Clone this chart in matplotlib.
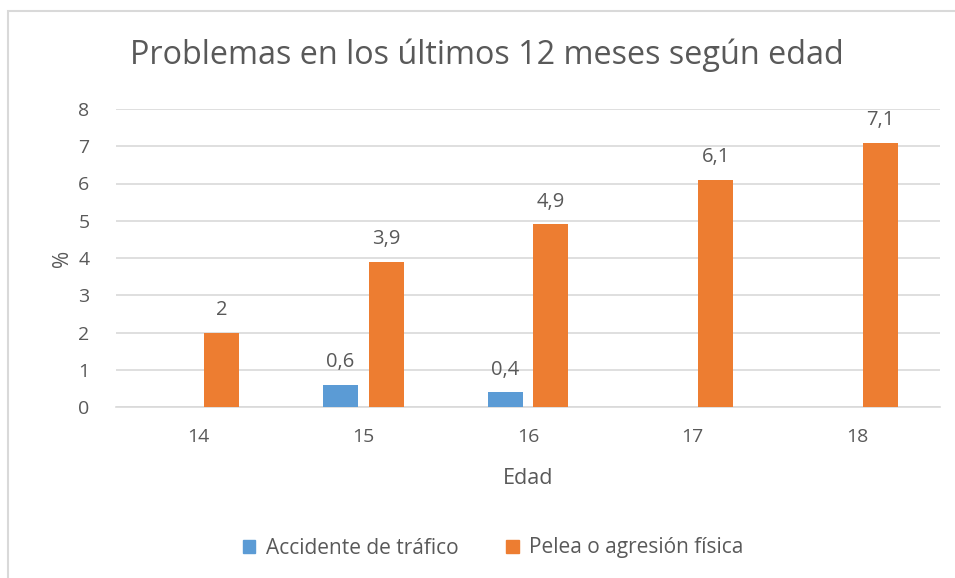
import matplotlib
matplotlib.use("Agg")
import matplotlib.pyplot as plt
import numpy as np
from matplotlib.patches import Rectangle

edades = ["14", "15", "16", "17", "18"]
accidente = [0, 0.6, 0.4, 0, 0]
pelea = [2, 3.9, 4.9, 6.1, 7.1]
series_names = ["Accidente de tráfico", "Pelea o agresión física"]
yticks = [0, 1, 2, 3, 4, 5, 6, 7, 8]

plt.rcParams['font.family'] = ['Open Sans', 'DejaVu Sans']
TXT = '#595959'
BLUE = '#5B9BD5'
ORANGE = '#ED7D31'

fig = plt.figure(figsize=(9.55, 5.78), dpi=100)
ax = fig.add_axes([116/955, 1-407/578, (940-116)/955, (407-109)/578])

x = np.arange(len(edades))
w = 0.212
off = 0.139
b1 = ax.bar(x - off, accidente, w, color=BLUE, zorder=3)
b2 = ax.bar(x + off, pelea, w, color=ORANGE, zorder=3)

def fmt(v):
    return ('%g' % v).replace('.', ',')

ax.bar_label(b1, labels=[fmt(v) if v else '' for v in accidente], padding=9,
             color=TXT, fontsize=14.5)
ax.bar_label(b2, labels=[fmt(v) for v in pelea], padding=9, color=TXT, fontsize=14.5)

ax.set_xlim(-0.5, len(edades) - 0.5)
ax.set_ylim(0, 8)
ax.set_yticks(yticks)
ax.set_xticks(x)
ax.set_xticklabels(edades)
ax.yaxis.grid(True, color='#D9D9D9', linewidth=1.2, zorder=0)
ax.set_axisbelow(True)
for s in ['top', 'right', 'left']:
    ax.spines[s].set_visible(False)
ax.spines['bottom'].set_color('#D9D9D9')
ax.spines['bottom'].set_linewidth(1.2)
ax.tick_params(axis='both', length=0, colors=TXT, labelsize=14)
ax.tick_params(axis='y', pad=19)
ax.tick_params(axis='x', pad=15)
ax.set_xlabel('Edad', color=TXT, fontsize=15.5, labelpad=16)
ax.set_ylabel('%', color=TXT, fontsize=15, labelpad=4)

fig.text(487/955, 1-55/578, 'Problemas en los últimos 12 meses según edad',
         ha='center', va='center', color=TXT, fontsize=23.3)

handles = [Rectangle((0, 0), 1, 1, color=BLUE), Rectangle((0, 0), 1, 1, color=ORANGE)]
fig.legend(handles, series_names, loc='center', bbox_to_anchor=(493/955, 1-548/578),
           ncol=2, frameon=False, fontsize=15, labelcolor=TXT,
           handlelength=0.6, handleheight=0.6, columnspacing=2.3, handletextpad=0.5)

fig.patches.append(Rectangle((7.5/955, -0.05), 1.0, 1-11/578 + 0.05, transform=fig.transFigure,
                             fill=False, edgecolor='#D9D9D9', linewidth=1.5))

fig.savefig('out.png', dpi=100)
